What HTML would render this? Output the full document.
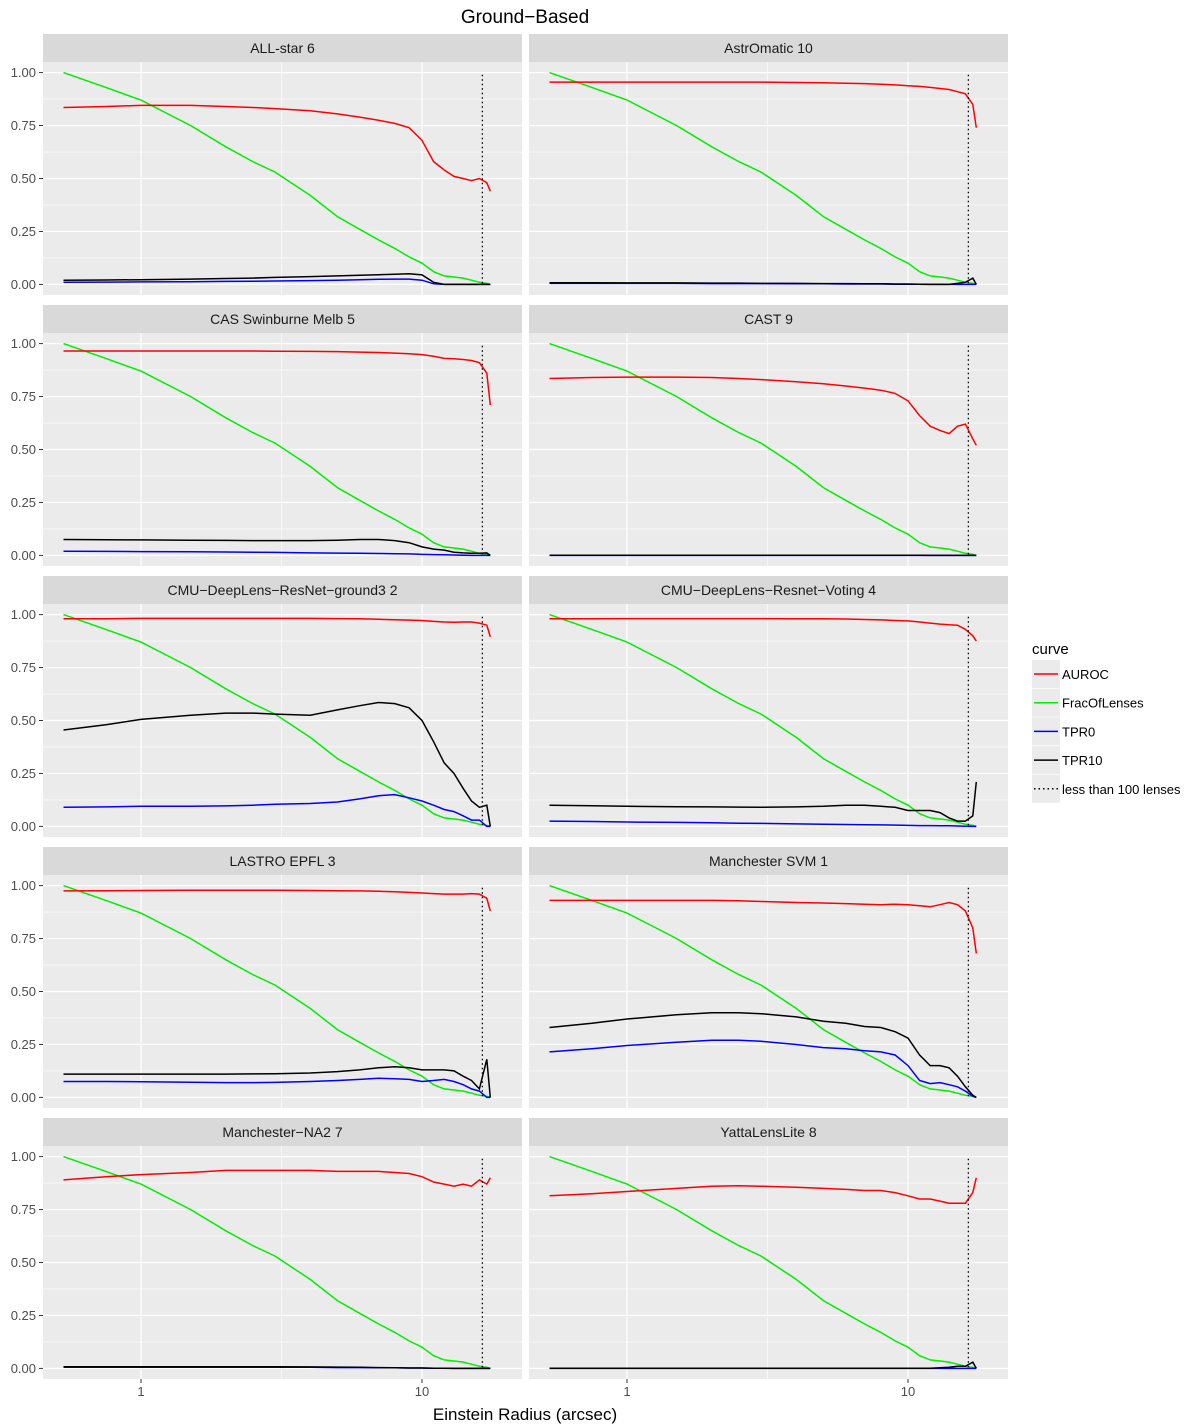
<!DOCTYPE html>
<html><head><meta charset="utf-8"><style>
body{margin:0;background:#fff}
svg{display:block;font-family:"Liberation Sans",Arial,sans-serif}
</style></head><body>
<svg id="chart" width="1200" height="1427" viewBox="0 0 1200 1427">
<text x="525" y="23" font-size="19" text-anchor="middle" fill="#000">Ground−Based</text>
<text x="525" y="1420" font-size="17" text-anchor="middle" fill="#000">Einstein Radius (arcsec)</text>
<g id="panels"></g>
<g>
<text x="1032" y="654" font-size="15">curve</text>
<g id="legend"></g>
</g>
</svg>
<script>
const radii=[0.53,0.75,1,1.5,2,2.5,3,4,5,6,7,8,9,10,11,12,13,14,15,16,17,17.5];
const frac=[1.0,0.93,0.87,0.75,0.65,0.58,0.53,0.42,0.32,0.26,0.21,0.17,0.13,0.1,0.06,0.04,0.035,0.03,0.02,0.01,0.005,0.0];
const titles=["ALL-star 6","AstrOmatic 10","CAS Swinburne Melb 5","CAST 9","CMU−DeepLens−ResNet−ground3 2","CMU−DeepLens−Resnet−Voting 4","LASTRO EPFL 3","Manchester SVM 1","Manchester−NA2 7","YattaLensLite 8"];
const auroc=[
[0.835,0.84,0.845,0.845,0.84,0.835,0.83,0.82,0.805,0.79,0.775,0.76,0.74,0.68,0.58,0.54,0.51,0.5,0.49,0.5,0.48,0.44],
[0.955,0.955,0.955,0.955,0.955,0.955,0.955,0.953,0.952,0.95,0.948,0.945,0.942,0.938,0.935,0.93,0.925,0.92,0.91,0.9,0.85,0.74],
[0.965,0.965,0.965,0.965,0.965,0.965,0.964,0.963,0.962,0.96,0.958,0.955,0.952,0.948,0.94,0.93,0.928,0.925,0.92,0.91,0.86,0.71],
[0.835,0.84,0.842,0.842,0.84,0.835,0.83,0.82,0.81,0.8,0.79,0.78,0.765,0.73,0.66,0.61,0.59,0.575,0.61,0.62,0.55,0.52],
[0.98,0.98,0.982,0.982,0.982,0.982,0.982,0.982,0.981,0.98,0.978,0.976,0.974,0.972,0.968,0.965,0.964,0.965,0.965,0.96,0.95,0.895],
[0.98,0.98,0.981,0.981,0.981,0.981,0.981,0.98,0.98,0.979,0.977,0.975,0.972,0.97,0.965,0.96,0.955,0.952,0.95,0.93,0.9,0.875],
[0.975,0.976,0.977,0.978,0.978,0.978,0.978,0.977,0.976,0.975,0.973,0.971,0.968,0.965,0.962,0.96,0.96,0.96,0.962,0.96,0.94,0.88],
[0.93,0.93,0.93,0.93,0.93,0.928,0.925,0.92,0.918,0.915,0.912,0.91,0.912,0.91,0.905,0.9,0.91,0.92,0.91,0.88,0.8,0.68],
[0.89,0.905,0.915,0.925,0.935,0.935,0.935,0.935,0.93,0.93,0.93,0.925,0.92,0.905,0.88,0.87,0.86,0.87,0.86,0.89,0.87,0.9],
[0.815,0.825,0.835,0.85,0.86,0.862,0.86,0.855,0.85,0.845,0.84,0.84,0.83,0.815,0.8,0.8,0.79,0.78,0.78,0.78,0.83,0.9]];
const tpr0=[
[0.01,0.011,0.012,0.013,0.014,0.015,0.016,0.018,0.02,0.022,0.024,0.025,0.025,0.02,0.003,0,0,0,0,0,0,0],
[0.005,0.005,0.005,0.005,0.004,0.004,0.004,0.003,0.003,0.002,0.002,0.002,0.001,0.001,0.001,0,0,0,0,0,0,0],
[0.02,0.019,0.018,0.017,0.016,0.015,0.014,0.012,0.011,0.01,0.009,0.008,0.007,0.005,0.004,0.003,0.002,0.001,0,0,0,0],
[0,0,0,0,0,0,0,0,0,0,0,0,0,0,0,0,0,0,0,0,0,0],
[0.09,0.092,0.095,0.095,0.097,0.1,0.105,0.108,0.115,0.13,0.145,0.15,0.135,0.12,0.1,0.08,0.07,0.05,0.03,0.03,0,0],
[0.025,0.023,0.021,0.019,0.017,0.015,0.014,0.012,0.01,0.009,0.008,0.007,0.006,0.005,0.004,0.004,0.003,0.003,0.002,0.001,0,0],
[0.075,0.075,0.074,0.072,0.07,0.07,0.071,0.075,0.08,0.085,0.09,0.088,0.085,0.075,0.08,0.085,0.075,0.06,0.04,0.03,0,0],
[0.215,0.23,0.245,0.26,0.27,0.27,0.265,0.25,0.235,0.23,0.22,0.215,0.2,0.15,0.08,0.065,0.07,0.06,0.05,0.03,0.005,0],
[0.005,0.005,0.005,0.005,0.005,0.005,0.005,0.005,0.004,0.004,0.003,0.003,0.002,0.002,0.001,0.001,0,0,0,0,0,0],
[0,0,0,0,0,0,0,0,0,0,0,0,0,0,0,0,0,0,0,0,0,0]];
const tpr10=[
[0.02,0.021,0.022,0.025,0.028,0.03,0.033,0.037,0.04,0.043,0.046,0.048,0.05,0.045,0.01,0,0,0,0,0,0,0],
[0.008,0.008,0.007,0.007,0.006,0.006,0.005,0.005,0.004,0.004,0.003,0.003,0.002,0.002,0.001,0,0,0,0.005,0.01,0.03,0],
[0.075,0.074,0.073,0.072,0.071,0.07,0.07,0.07,0.072,0.075,0.075,0.07,0.06,0.04,0.03,0.025,0.015,0.012,0.01,0.01,0.012,0],
[0.001,0.001,0.001,0.001,0.001,0.001,0.001,0.001,0.001,0.001,0.001,0.001,0.001,0.001,0.001,0,0,0,0,0,0,0],
[0.455,0.48,0.505,0.525,0.535,0.535,0.53,0.525,0.55,0.57,0.585,0.58,0.56,0.5,0.4,0.3,0.25,0.18,0.12,0.09,0.1,0],
[0.1,0.098,0.095,0.093,0.092,0.091,0.09,0.092,0.095,0.1,0.1,0.095,0.09,0.075,0.075,0.075,0.065,0.04,0.025,0.025,0.05,0.21],
[0.11,0.11,0.11,0.11,0.11,0.111,0.112,0.115,0.122,0.13,0.14,0.145,0.14,0.13,0.13,0.13,0.125,0.1,0.08,0.04,0.18,0],
[0.33,0.35,0.37,0.39,0.4,0.4,0.395,0.38,0.36,0.35,0.335,0.33,0.31,0.28,0.2,0.15,0.15,0.14,0.1,0.05,0.01,0],
[0.008,0.008,0.008,0.008,0.008,0.008,0.008,0.007,0.006,0.005,0.004,0.003,0.002,0.002,0.001,0.001,0,0,0,0,0,0],
[0.001,0.001,0.001,0.001,0.001,0.001,0.001,0.001,0.001,0.001,0.001,0.001,0.001,0.001,0.001,0.001,0.003,0.005,0.01,0.01,0.03,0]];
const yTicks=[0,0.25,0.5,0.75,1];
const yTickLabels=["0.00","0.25","0.50","0.75","1.00"];
const xTicks=[1,10];
const xTickLabels=["1","10"];
const cutoff=16.4;
const NS="http://www.w3.org/2000/svg";
const PW=479,PH=233,STRIP=28;
function mk(tag,attrs,parent){const e=document.createElementNS(NS,tag);for(const k in attrs)e.setAttribute(k,attrs[k]);parent.appendChild(e);return e;}
const root=document.getElementById('panels');
titles.forEach((t,i)=>{
  const col=i%2,row=Math.floor(i/2);
  const L=col?529:43, ST=34+row*271, T=ST+STRIP;
  const xs=r=>L+98+281*Math.log10(r);
  const ys=v=>T+(1.05-v)/1.1*PH;
  const g=mk('g',{},root);
  
  
  const strip=mk('rect',{x:L,y:ST,width:PW,height:STRIP,fill:'#D9D9D9'},g);
  
  
  const st=mk('text',{x:L+PW/2,y:ST+19,'font-size':14,'text-anchor':'middle',fill:'#1a1a1a'},g);
  st.textContent=t;
  
  
  const bg=mk('rect',{x:L,y:T,width:PW,height:PH,fill:'#EBEBEB'},g);
  
  
  [0.125,0.375,0.625,0.875].forEach(v=>mk('line',{x1:L,x2:L+PW,y1:ys(v),y2:ys(v),stroke:'#fff','stroke-width':0.6},g));
  mk('line',{x1:xs(Math.sqrt(10)),x2:xs(Math.sqrt(10)),y1:T,y2:T+PH,stroke:'#fff','stroke-width':0.6},g);
  yTicks.forEach((v,k)=>{
    mk('line',{x1:L,x2:L+PW,y1:ys(v),y2:ys(v),stroke:'#fff','stroke-width':1.2},g);
    if(col===0){
      mk('line',{x1:L-4,x2:L,y1:ys(v),y2:ys(v),stroke:'#333','stroke-width':1},g);
      const tl=mk('text',{x:L-7,y:ys(v)+4.5,'font-size':13,'text-anchor':'end',fill:'#4d4d4d'},g);
      tl.textContent=yTickLabels[k];
      
      
    }
  });
  xTicks.forEach((v,k)=>{
    mk('line',{x1:xs(v),x2:xs(v),y1:T,y2:T+PH,stroke:'#fff','stroke-width':1.2},g);
    if(row===4){
      mk('line',{x1:xs(v),x2:xs(v),y1:T+PH,y2:T+PH+4,stroke:'#333','stroke-width':1},g);
      const tl=mk('text',{x:xs(v),y:T+PH+17,'font-size':13,'text-anchor':'middle',fill:'#4d4d4d'},g);
      tl.textContent=xTickLabels[k];
      
      
    }
  });
  const series=[[frac,'#00EE00','frac-line'],[tpr0[i],'#0000FF','tpr0-line'],[tpr10[i],'#000000','tpr10-line'],[auroc[i],'#FF0000','auroc-line']];
  series.forEach(([d,c,n])=>{
    const p=mk('path',{d:d.map((v,k)=>(k?'L':'M')+xs(radii[k]).toFixed(1)+','+ys(v).toFixed(1)).join(''),fill:'none',stroke:c,'stroke-width':1.5},g);
    
    
  });
  const dl=mk('line',{x1:xs(cutoff),x2:xs(cutoff),y1:ys(0.99),y2:ys(0),stroke:'#000','stroke-width':1.3,'stroke-dasharray':'1.5,3'},g);
  
  
});
const legItems=[["AUROC","#FF0000",""],["FracOfLenses","#00EE00",""],["TPR0","#0000FF",""],["TPR10","#000000",""],["less than 100 lenses","#000000","1.5,3"]];
const lg=document.getElementById('legend');
legItems.forEach(([lab,c,da],k)=>{
  const y=660+k*28.7;
  const e=mk('g',{},lg);
  
  
  mk('rect',{x:1032,y:y,width:28,height:28,fill:'#EBEBEB'},e);
  const a={x1:1034,x2:1058,y1:y+14,y2:y+14,stroke:c,'stroke-width':1.5};
  if(da)a['stroke-dasharray']=da;
  mk('line',a,e);
  const tx=mk('text',{x:1062,y:y+19,'font-size':13,fill:'#000'},e);
  tx.textContent=lab;
});
</script>
</body></html>
